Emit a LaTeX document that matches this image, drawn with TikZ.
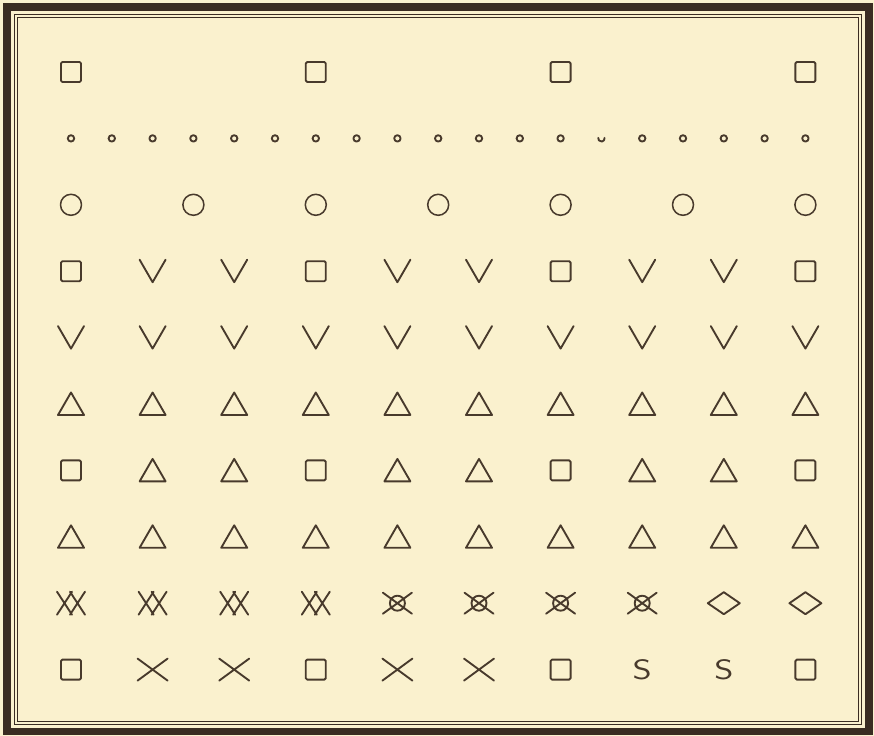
\documentclass[tikz,border=0pt]{standalone}
\usetikzlibrary{calc}
\definecolor{paper}{RGB}{250,241,206}
\definecolor{inkbrown}{RGB}{72,58,44}
\definecolor{framebrown}{RGB}{58,44,34}

\begin{document}
\begin{tikzpicture}[x=0.03cm, y=-0.03cm,
        ink/.style={draw=inkbrown, line width=1.6pt, line join=round, line cap=round},
        sq/.pic={\draw[ink, rounded corners=1.2pt] (-10,-10) rectangle (10,10);},
        vee/.pic={\draw[ink] (-13,-11.5) -- (0,11) -- (13,-11.5);},
        tri/.pic={\draw[ink] (-13,11) -- (0,-11.5) -- (13,11) -- cycle;},
        cross/.pic={\draw[ink] (-15,-11) -- (15,11) (-15,11) -- (15,-11);},
        dcross/.pic={\draw[ink] (-14,-11.5) -- (1,11.5) (-14,11.5) -- (1,-11.5) (-1,-11.5) -- (14,11.5) (-1,11.5) -- (14,-11.5);},
        ocross/.pic={\draw[ink] (0,0) circle[radius=7.5] (-14.5,-10.5) -- (14.5,10.5) (-14.5,10.5) -- (14.5,-10.5);},
        dia/.pic={\draw[ink] (-16,0) -- (0,-11) -- (16,0) -- (0,11) -- cycle;},
        ring/.pic={\draw[ink, line width=1.3pt] (0,0) circle[radius=10.5];},
        dot/.pic={\draw[ink, line width=1.6pt] (0,0) circle[radius=3.2];},
        ess/.pic={\node[text=inkbrown, font=\sffamily\fontsize{24}{24}\selectfont, inner sep=0pt] (-letter) {\scalebox{1.3}[1]{S}};}
    ]

    \fill[paper] (0,0) rectangle (874,736);
    \useasboundingbox (0,0) rectangle (874,736);

    % frame
    \draw[framebrown, line width=6.5pt] (7,7) rectangle (869,731.5);
    \draw[framebrown, line width=0.9pt] (14.5,14.5) rectangle (861.5,724.5);
    \draw[framebrown, line width=0.7pt] (17.5,17.5) rectangle (858.5,721.5);

    % row 1 to 3
    \foreach \c in {1,4,7,10}
        \pic (top\c) at ({71+(\c-1)*81.6},72) {sq};
    \foreach \c in {1,...,13,15,16,17,18,19}
        \pic (dot\c) at ({71+(\c-1)*40.8},138.4) {dot};
    \coordinate (nick) at ({71+13*40.8},138.4);
    \draw[ink, line width=1.6pt] (nick) ++(-10:3.2) arc[start angle=-10, end angle=190, radius=3.2];
    \foreach \c in {1,2.5,4,5.5,7,8.5,10}
        \pic (ring\c) at ({71+(\c-1)*81.6},204.8) {ring};

    % rows 4 to 10
    \foreach \syms [count=\r from 4] in {
        {sq,vee,vee,sq,vee,vee,sq,vee,vee,sq},
        {vee,vee,vee,vee,vee,vee,vee,vee,vee,vee},
        {tri,tri,tri,tri,tri,tri,tri,tri,tri,tri},
        {sq,tri,tri,sq,tri,tri,sq,tri,tri,sq},
        {tri,tri,tri,tri,tri,tri,tri,tri,tri,tri},
        {dcross,dcross,dcross,dcross,ocross,ocross,ocross,ocross,dia,dia},
        {sq,cross,cross,sq,cross,cross,sq,ess,ess,sq}}
        \foreach \s [count=\c] in \syms
            \pic (r\r c\c) at ({71+(\c-1)*81.6},{72+(\r-1)*66.4}) {\s};
\end{tikzpicture}
\end{document}
